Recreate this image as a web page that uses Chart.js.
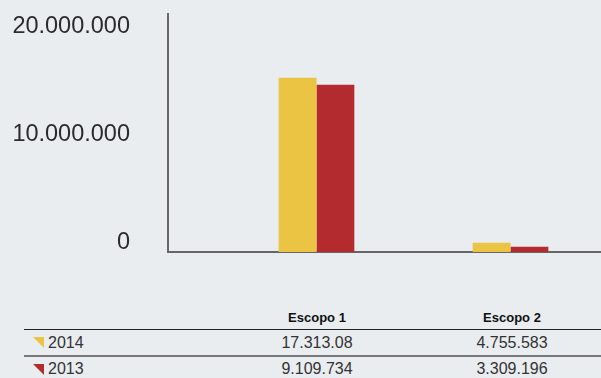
<!DOCTYPE html>
<html>
<head>
<meta charset="utf-8">
<script src="https://cdn.jsdelivr.net/npm/chart.js@4"></script>
<style>
    html, body { margin: 0; padding: 0; width: 601px; height: 378px; overflow: hidden; background: #e9edf0; }
    body { position: relative; font-family: "Liberation Sans", Arial, sans-serif; }
    #chart-box { position: absolute; left: 0; top: 0; width: 601px; height: 262px; }
    #data-table { position: absolute; left: 24px; top: 305px; width: 586px; color: #333; }
    .row { display: flex; align-items: center; }
    .row div { text-align: center; }
    .row .c1 { width: 196px; text-align: left; display: flex; align-items: center; }
    .row .c2 { width: 194px; }
    .row .c3 { width: 196px; }
    .head { height: 24px; border-bottom: 1px solid #222; font-weight: bold; font-size: 13px; color: #111; }
    .r1 { height: 25px; border-bottom: 2px solid #7a7a7a; font-size: 16px; }
    .r2 { height: 24px; font-size: 16px; }
    .mark { width: 0; height: 0; border-top: 11px solid; border-left: 11px solid transparent; margin-left: 9px; margin-right: 4px; }
</style>
</head>
<body>
<div id="chart-box"><canvas id="emissionsChart" width="601" height="262"></canvas></div>
<div id="data-table"></div>

<script>
const categories = ["Escopo 1", "Escopo 2"];
const seriesNames = ["2014", "2013"];
const seriesColors = ["#ecc443", "#b32a2f"];
const values2014 = [16100000, 860000];
const values2013 = [15450000, 490000];
const yTicks = [0, 10000000, 20000000];
// numbers as printed in the table under the chart
const table2014 = ["17.313.08", "4.755.583"];
const table2013 = ["9.109.734", "3.309.196"];

function formatNumber(v) {
    return String(v).replace(/\B(?=(\d{3})+(?!\d))/g, ".");
}

function toPoints(values) {
    return values.map((v, i) => ({ x: i + 1, y: v }));
}

function buildTable() {
    const box = document.getElementById("data-table");
    const rows = [table2014, table2013];
    let html = `
        <div class="row head">
            <div class="c1"></div>
            <div class="c2">${categories[0]}</div>
            <div class="c3">${categories[1]}</div>
        </div>`;
    rows.forEach((row, i) => {
        html += `
        <div class="row r${i + 1}">
            <div class="c1"><span class="mark" style="border-top-color:${seriesColors[i]}"></span>${seriesNames[i]}</div>
            <div class="c2">${row[0]}</div>
            <div class="c3">${row[1]}</div>
        </div>`;
    });
    box.innerHTML = html;
}

document.addEventListener("DOMContentLoaded", () => {
    buildTable();

    const ctx = document.getElementById("emissionsChart").getContext("2d");
    window.emissionsChart = new Chart(ctx, {
        type: "bar",
        data: {
            datasets: [
                {
                    label: seriesNames[0],
                    data: toPoints(values2014),
                    backgroundColor: seriesColors[0],
                    borderWidth: 0
                },
                {
                    label: seriesNames[1],
                    data: toPoints(values2013),
                    backgroundColor: seriesColors[1],
                    borderWidth: 0
                }
            ]
        },
        options: {
            responsive: false,
            animation: false,
            categoryPercentage: 0.39,
            barPercentage: 1,
            layout: { padding: { top: 14, bottom: 2, left: 0, right: 0 } },
            plugins: {
                legend: { display: false },
                tooltip: { enabled: false }
            },
            scales: {
                x: {
                    type: "linear",
                    offset: false,
                    min: 0.2345,
                    max: 2.4665,
                    grid: { display: false, offset: false },
                    border: { display: true, color: "#666", width: 2 },
                    ticks: { display: false },
                    afterBuildTicks: (scale) => {
                        scale.ticks = categories.map((c, i) => ({ value: i + 1 }));
                    }
                },
                y: {
                    min: 0,
                    max: 22000000,
                    grid: { display: false, drawTicks: false },
                    border: { display: true, color: "#666", width: 2 },
                    ticks: {
                        padding: 38,
                        labelOffset: -9,
                        color: "#2b2b2b",
                        font: { family: "Liberation Sans", size: 23.5 },
                        callback: (v) => formatNumber(v)
                    },
                    afterBuildTicks: (scale) => {
                        scale.ticks = yTicks.map(v => ({ value: v }));
                    },
                    afterFit: (scale) => {
                        scale.width = 168;
                        scale.paddingTop = 0;
                        scale.paddingBottom = 0;
                    }
                }
            }
        }
    });
});
</script>
</body>
</html>
